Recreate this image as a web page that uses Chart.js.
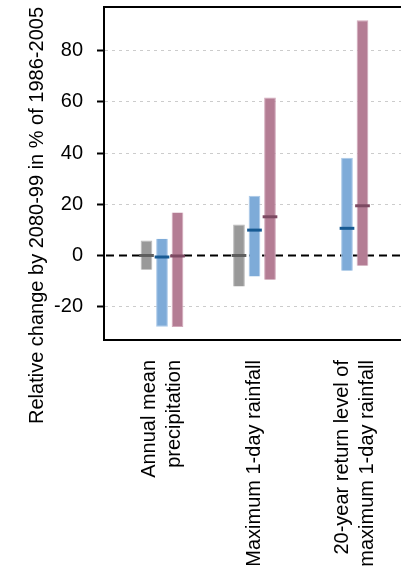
<!DOCTYPE html>
<html>
<head>
<meta charset="utf-8">
<script src="https://cdn.jsdelivr.net/npm/chart.js@4.4.1/dist/chart.umd.min.js"></script>
<style>
	body { margin: 0; background: #fff; overflow: hidden; }
</style>
</head>
<body>
<canvas id="mycanvas" width="401" height="571"></canvas>
<script>
var categories = [
	['Annual mean', 'precipitation'],
	['Maximum 1-day rainfall'],
	['20-year return level of', 'maximum 1-day rainfall']
];
var greyLow = [-5.6, -12.1, null];
var greyHigh = [5.8, 12.1, null];
var greyMedian = [0, 0, null];
var blueLow = [-27.8, -8.2, -6.0];
var blueHigh = [6.5, 23.3, 38.1];
var blueMedian = [-0.6, 9.9, 10.6];
var pinkLow = [-27.9, -9.5, -4.0];
var pinkHigh = [16.8, 61.7, 91.8];
var pinkMedian = [-0.2, 15.1, 19.4];
var yTicks = [-20, 0, 20, 40, 60, 80];

var medians = [greyMedian, blueMedian, pinkMedian];
var medianColors = ['#5e5e5e', '#175a93', '#7c4a62'];
var font = 'Liberation Sans';

function ranges(low, high){
	var out = [];
	for(var i in low){
		if(low[i] === null) continue;
		out.push({x: Number(i) + 1, y: [low[i], high[i]]});
	}
	return out;
}

var chartdata = {
	datasets: [
		{
			label: 'grey',
			data: ranges(greyLow, greyHigh),
			backgroundColor: '#999999',
			borderColor: '#b9b9b9',
			borderWidth: 1
		},
		{
			label: 'blue',
			data: ranges(blueLow, blueHigh),
			backgroundColor: '#7eabd8',
			borderColor: '#a9c8e8',
			borderWidth: 1
		},
		{
			label: 'pink',
			data: ranges(pinkLow, pinkHigh),
			backgroundColor: '#b47d94',
			borderColor: '#d2a9ba',
			borderWidth: 1
		}
	]
};

// zero line under the bars, medians and the frame on top
var extras = {
	id: 'extras',
	beforeDatasetsDraw: function(chart){
		var c = chart.ctx, a = chart.chartArea;
		var y0 = chart.scales.y.getPixelForValue(0);
		c.save();
		c.strokeStyle = '#000';
		c.lineWidth = 2;
		c.setLineDash([8, 5]);
		c.beginPath();
		c.moveTo(a.left + 2, y0);
		c.lineTo(a.right, y0);
		c.stroke();
		c.restore();
	},
	afterDatasetsDraw: function(chart){
		var c = chart.ctx;
		var y = chart.scales.y;
		c.save();
		c.lineWidth = 3;
		for(var d = 0; d < medians.length; d++){
			var meta = chart.getDatasetMeta(d);
			c.strokeStyle = medianColors[d];
			for(var i = 0; i < meta.data.length; i++){
				var el = meta.data[i];
				var cat = chart.data.datasets[d].data[i].x - 1;
				var py = y.getPixelForValue(medians[d][cat]);
				c.beginPath();
				c.moveTo(el.x - el.width / 2 - 1.5, py);
				c.lineTo(el.x + el.width / 2 + 1.5, py);
				c.stroke();
			}
		}
		c.restore();
	},
	afterDraw: function(chart){
		var c = chart.ctx, a = chart.chartArea;
		c.save();
		c.strokeStyle = '#000';
		c.lineWidth = 2;
		c.beginPath();
		c.moveTo(a.left - 1, a.top);
		c.lineTo(a.right, a.top);
		c.stroke();

		// category labels, centred on the bars present in each group
		c.fillStyle = '#000';
		c.font = '20px "' + font + '"';
		c.textAlign = 'right';
		c.textBaseline = 'middle';
		var lh = 25;
		for(var j = 0; j < categories.length; j++){
			var sum = 0, n = 0;
			for(var d = 0; d < chart.data.datasets.length; d++){
				var meta = chart.getDatasetMeta(d);
				var pts = chart.data.datasets[d].data;
				for(var k = 0; k < pts.length; k++){
					if(pts[k].x === j + 1){ sum += meta.data[k].x; n++; }
				}
			}
			var cx = sum / n;
			var lines = categories[j];
			for(var l = 0; l < lines.length; l++){
				c.save();
				c.translate(cx + (l - (lines.length - 1) / 2) * lh, a.bottom + 20);
				c.rotate(-Math.PI / 2);
				c.fillText(lines[l], 0, 0);
				c.restore();
			}
		}
		c.restore();
	}
};

var ctx = document.getElementById('mycanvas');

var barGraph = new Chart(ctx, {
	type: 'bar',
	data: chartdata,
	plugins: [extras],
	options: {
		responsive: false,
		animation: false,
		categoryPercentage: 0.503,
		barPercentage: 0.755,
		layout: { padding: { top: 7, left: 0, right: 0, bottom: 0 } },
		plugins: {
			legend: { display: false },
			tooltip: { enabled: false }
		},
		scales: {
			x: {
				type: 'linear',
				min: 0.373,
				max: 3.584,
				offset: false,
				ticks: { display: false, stepSize: 1, includeBounds: false },
				grid: { display: false },
				border: { display: true, color: '#000', width: 2 },
				afterFit: function(scale){
					scale.height = 231;
					scale.paddingLeft = 0;
					scale.paddingRight = 0;
				}
			},
			y: {
				min: -33,
				max: 97,
				afterBuildTicks: function(scale){
					scale.ticks = yTicks.map(function(v){ return {value: v}; });
				},
				ticks: {
					color: '#000',
					padding: 14,
					font: { family: font, size: 20 }
				},
				grid: {
					color: function(c){ return c.tick && c.tick.value === 0 ? 'rgba(0,0,0,0)' : '#cccccc'; },
					lineWidth: 1,
					tickLength: 7,
					tickColor: '#000',
					tickWidth: 2
				},
				border: { display: true, color: '#000', width: 2, dash: [3, 4] },
				title: {
					display: true,
					text: 'Relative change by 2080-99 in % of 1986-2005',
					color: '#000',
					align: 'end',
					font: { family: font, size: 20 },
					padding: { top: 25, bottom: 0 }
				},
				afterFit: function(scale){
					scale.width = 104;
					scale.paddingTop = 0;
					scale.paddingBottom = 0;
				}
			}
		}
	}
});
</script>
</body>
</html>
